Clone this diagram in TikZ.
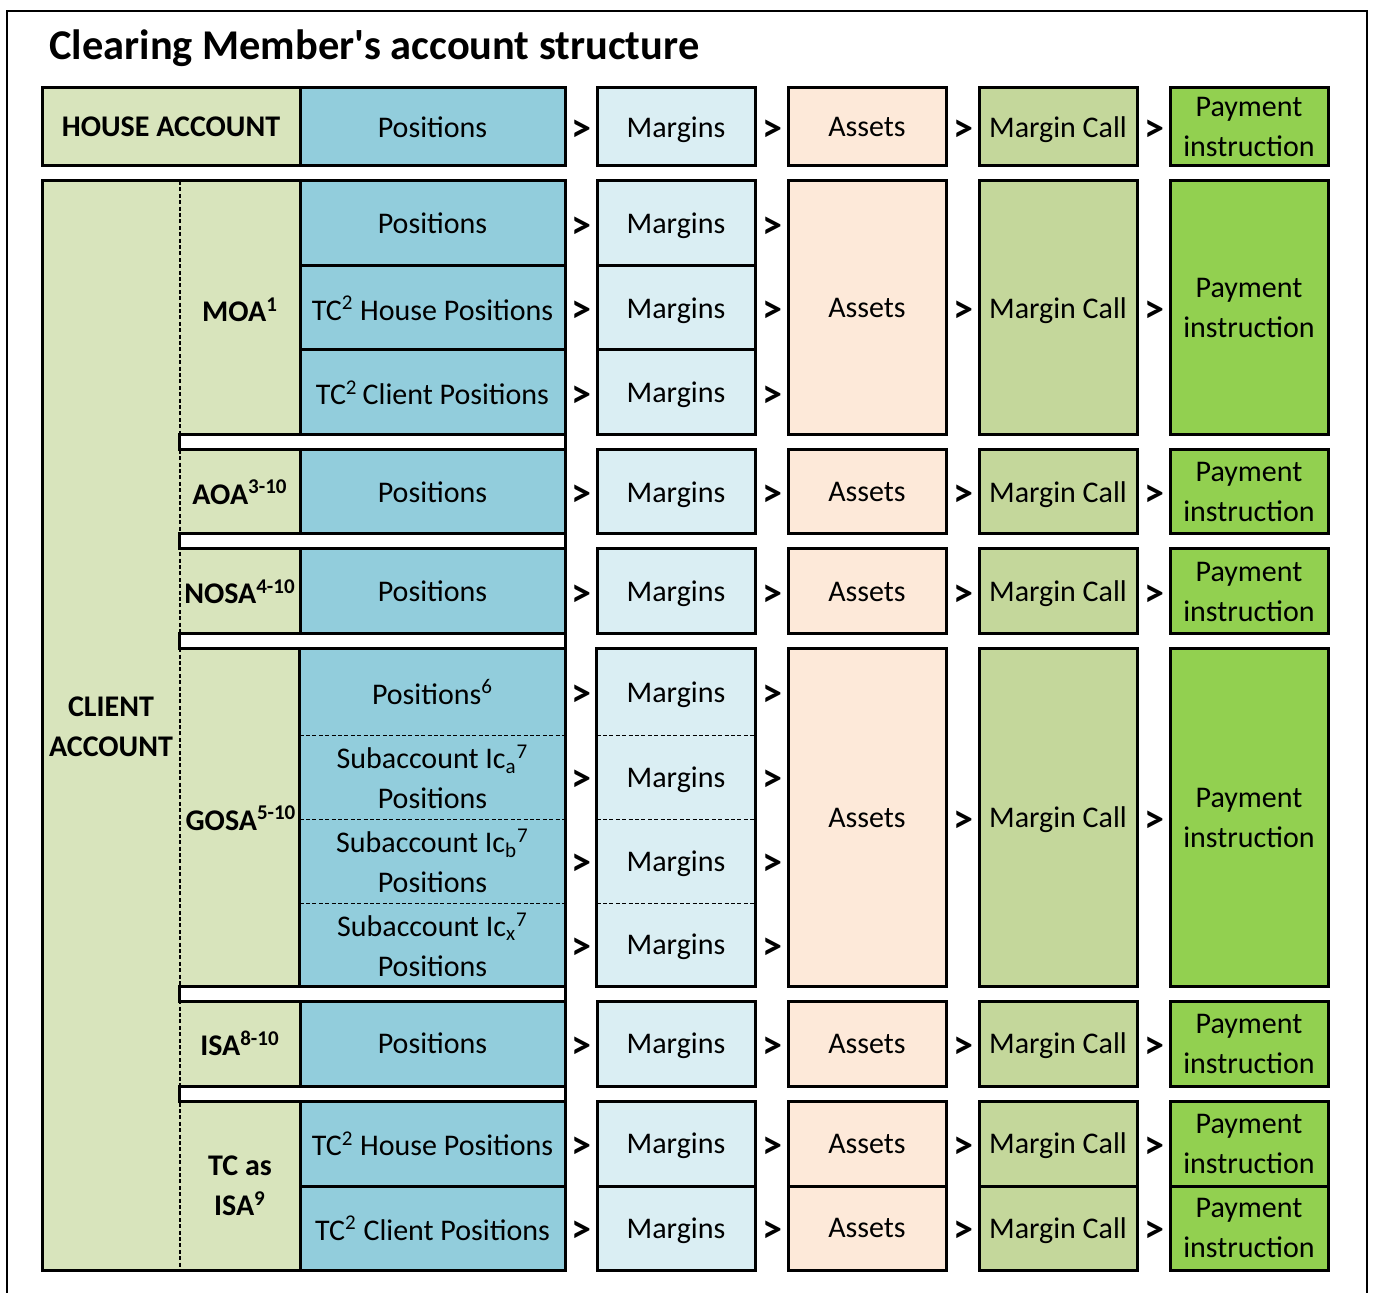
\documentclass[tikz,border=0pt]{standalone}
\usepackage{fontspec}
\setmainfont{Carlito}
\definecolor{acct}{HTML}{D8E4BC}
\definecolor{posn}{HTML}{92CDDC}
\definecolor{marg}{HTML}{DAEEF3}
\definecolor{asst}{HTML}{FDE9D9}
\definecolor{mcall}{HTML}{C4D79B}
\definecolor{paym}{HTML}{92D050}

\newcommand\cellat[7]{%
  \node[#2, minimum width={(#5-#3)*0.5pt}, minimum height={(#6-#4)*0.5pt}]
    (#1) at ({(#3+#5)/2},{(#4+#6)/2}) {#7};}

\begin{document}
\begin{tikzpicture}[x=0.5pt,y=-0.5pt,
  every node/.style={font=\fontsize{15}{20}\selectfont},
  txt/.style={inner sep=0pt, align=center, text depth=0pt},
  cell/.style={txt, draw, line width=1.5pt},
  lbl/.style={inner sep=0pt, align=center, font=\fontsize{15}{20}\selectfont\bfseries},
  gt/.style={inner sep=0pt, font=\fontsize{20}{20}\selectfont\bfseries},
  dsh/.style={line width=0.6pt, dash pattern=on 2pt off 1.2pt}]
\useasboundingbox (0,0) rectangle (1375,1293);

% frame and title
\draw[line width=1.1pt] (7,1300) -- (7,11) -- (1367,11) -- (1367,1300);
\node[anchor=base west, inner sep=0pt, font=\fontsize{21.2}{25}\selectfont\bfseries]
  (title) at (49,60) {Clearing Member\textquotesingle s account structure};

% house account
\cellat{house}{cell,fill=acct,font=\fontsize{15}{20}\selectfont\bfseries}{42}{88}{300}{166}{HOUSE ACCOUNT}
\cellat{hpos}{cell,fill=posn}{300}{88}{565}{166}{Positions}
\cellat{hmar}{cell,fill=marg}{597}{88}{755}{166}{Margins}
\cellat{hass}{cell,fill=asst}{788}{88}{946}{166}{Assets}
\cellat{hmc}{cell,fill=mcall}{979}{88}{1137}{166}{Margin Call}
\cellat{hpay}{cell,fill=paym}{1170}{88}{1328}{166}{Payment\\instruction}

% client account
\cellat{client}{cell,fill=acct}{42}{181}{565}{1270}{}
\draw[dsh] (180,181) -- (180,1270);
\node[lbl] (clbl) at (111,727) {CLIENT\\ACCOUNT};
\foreach \a/\b in {435/450,534/549,634/649,986/1001,1086/1101}
  \draw[line width=1.5pt, fill=white] (179,\a) rectangle (565,\b);

% MOA
\node[lbl] (moa) at (240,310) {MOA\textsuperscript{1}};
\cellat{mpos1}{cell,fill=posn}{300}{181}{565}{266}{Positions}
\cellat{mpos2}{cell,fill=posn}{300}{266}{565}{350}{TC\textsuperscript{2} House Positions}
\cellat{mpos3}{cell,fill=posn}{300}{350}{565}{435}{TC\textsuperscript{2}\,Client Positions}
\foreach \a/\b [count=\k] in {181/266,266/350,350/435}
{
  \cellat{mmar\k}{cell,fill=marg}{597}{\a}{755}{\b}{Margins}
}
\cellat{mass}{cell,fill=asst}{788}{181}{946}{435}{Assets}
\cellat{mmc}{cell,fill=mcall}{979}{181}{1137}{435}{Margin Call}
\cellat{mpay}{cell,fill=paym}{1170}{181}{1328}{435}{Payment\\instruction}

% AOA, NOSA, ISA
\foreach \n/\a/\b/\l in {aoa/450/534/AOA\textsuperscript{3-10},
    nosa/549/634/NOSA\textsuperscript{4-10}, isa/1001/1086/ISA\textsuperscript{8-10}}
{
  \node[lbl] (\n) at (240,{(\a+\b)/2}) {\l};
  \cellat{\n pos}{cell,fill=posn}{300}{\a}{565}{\b}{Positions}
  \cellat{\n mar}{cell,fill=marg}{597}{\a}{755}{\b}{Margins}
  \cellat{\n ass}{cell,fill=asst}{788}{\a}{946}{\b}{Assets}
  \cellat{\n mc}{cell,fill=mcall}{979}{\a}{1137}{\b}{Margin Call}
  \cellat{\n pay}{cell,fill=paym}{1170}{\a}{1328}{\b}{Payment\\instruction}
}

% GOSA
\node[lbl] (gosa) at (241,818) {GOSA\textsuperscript{5-10}};
\foreach \a/\b/\t [count=\k] in {649/735/{Positions\textsuperscript{6}},
    735/819/{Subaccount Ic\textsubscript{a}\textsuperscript{7}\\Positions},
    819/903/{Subaccount Ic\textsubscript{b}\textsuperscript{7}\\Positions},
    903/986/{Subaccount Ic\textsubscript{x}\textsuperscript{7}\\Positions}}
{
  \cellat{gpos\k}{txt,fill=posn}{300}{\a}{565}{\b}{\t}
  \cellat{gmar\k}{txt,fill=marg}{597}{\a}{755}{\b}{Margins}
}
\foreach \k in {1,2,3}
{
  \draw[dsh] (gpos\k.south west) -- (gpos\k.south east);
  \draw[dsh] (gmar\k.south west) -- (gmar\k.south east);
}
\draw[line width=1.5pt] (gpos1.north west) rectangle (gpos4.south east);
\draw[line width=1.5pt] (gmar1.north west) rectangle (gmar4.south east);
\cellat{gass}{cell,fill=asst}{788}{649}{946}{986}{Assets}
\cellat{gmc}{cell,fill=mcall}{979}{649}{1137}{986}{Margin Call}
\cellat{gpay}{cell,fill=paym}{1170}{649}{1328}{986}{Payment\\instruction}

% TC as ISA
\node[lbl] (tcisa) at (240,1186) {TC as\\ISA\textsuperscript{9}};
\foreach \a/\b/\t [count=\k] in {1101/1186/House, 1186/1270/Client}
{
  \cellat{tpos\k}{cell,fill=posn}{300}{\a}{565}{\b}{TC\textsuperscript{2} \t\ Positions}
  \cellat{tmar\k}{cell,fill=marg}{597}{\a}{755}{\b}{Margins}
  \cellat{tass\k}{cell,fill=asst}{788}{\a}{946}{\b}{Assets}
  \cellat{tmc\k}{cell,fill=mcall}{979}{\a}{1137}{\b}{Margin Call}
  \cellat{tpay\k}{cell,fill=paym}{1170}{\a}{1328}{\b}{Payment\\instruction}
}

% > signs
\foreach \y [count=\k] in {127,223.5,308,392.5,492,591.5,692,777,861,944.5,1043.5,1143.5,1228}
{
  \node[gt] (pm\k) at (581,\y+4) {>};
  \node[gt] (ma\k) at (772,\y+4) {>};
}
\foreach \y [count=\k] in {127,308,492,591.5,817.5,1043.5,1143.5,1228}
{
  \node[gt] (am\k) at (963,\y+4) {>};
  \node[gt] (mp\k) at (1154,\y+4) {>};
}
\end{tikzpicture}
\end{document}
